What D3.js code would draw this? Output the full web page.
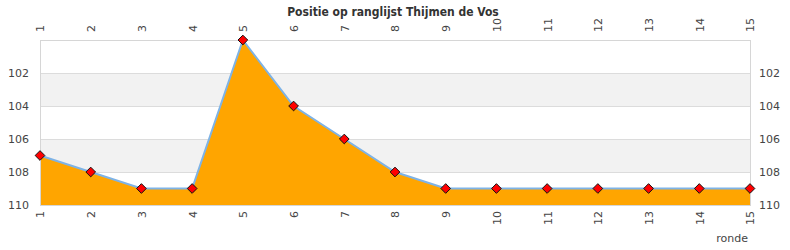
<!DOCTYPE html>
<html>
<head>
<meta charset="utf-8">
<script src="https://cdn.jsdelivr.net/npm/d3@7"></script>
<style>
  body { margin: 0; background: #fff; }
  text { font-family: "DejaVu Sans", sans-serif; }
</style>
</head>
<body>
<div class="chart"></div>
<script>
const rondes = [1, 2, 3, 4, 5, 6, 7, 8, 9, 10, 11, 12, 13, 14, 15];
const posities = [107, 108, 109, 109, 100, 104, 106, 108, 109, 109, 109, 109, 109, 109, 109];
const yTicks = [102, 104, 106, 108, 110];

const w = 790;
const h = 250;
const margin = { top: 40, bottom: 45, left: 40, right: 40 };

const x = d3.scaleLinear().domain([1, 15]).range([margin.left, w - margin.right]);
const y = d3.scaleLinear().domain([100, 110]).range([margin.top, h - margin.bottom]);

const svg = d3.select(".chart").append("svg")
    .attr("width", w)
    .attr("height", h);

// alternating bands
const bands = [[102, 104], [106, 108]];
svg.append("g").selectAll("rect")
    .data(bands)
    .enter().append("rect")
    .attr("x", x(1))
    .attr("width", x(15) - x(1))
    .attr("y", d => y(d[0]))
    .attr("height", d => y(d[1]) - y(d[0]))
    .attr("fill", "#f2f2f2");

// grid lines
svg.append("g").selectAll("line")
    .data(yTicks)
    .enter().append("line")
    .attr("x1", x(1)).attr("x2", x(15))
    .attr("y1", d => y(d) + 0.5).attr("y2", d => y(d) + 0.5)
    .attr("stroke", "#dcdcdc");

const pts = rondes.map((r, i) => [r, posities[i]]);

const area = d3.area()
    .x(d => x(d[0]))
    .y0(y(110))
    .y1(d => y(d[1]));

svg.append("path")
    .attr("d", area(pts))
    .attr("fill", "#ffa500");

const line = d3.line()
    .x(d => x(d[0]))
    .y(d => y(d[1]));

svg.append("path")
    .attr("d", line(pts))
    .attr("fill", "none")
    .attr("stroke", "#7eb3e6")
    .attr("stroke-width", 2);

// plot frame
svg.append("rect")
    .attr("x", x(1) + 0.5)
    .attr("y", y(100) + 0.5)
    .attr("width", x(15) - x(1))
    .attr("height", y(110) - y(100))
    .attr("fill", "none")
    .attr("stroke", "#d6d6d6");

// markers
svg.append("g").selectAll("path")
    .data(pts)
    .enter().append("path")
    .attr("d", d3.symbol().type(d3.symbolDiamond2).size(60))
    .attr("transform", d => "translate(" + x(d[0]) + "," + y(d[1]) + ")")
    .attr("fill", "#ff0000")
    .attr("stroke", "#111")
    .attr("stroke-linejoin", "round")
    .attr("stroke-width", 1);

// axes
const xTop = d3.axisTop(x).tickValues(rondes).tickFormat(d3.format("d")).tickSize(0).tickPadding(8);
const xBot = d3.axisBottom(x).tickValues(rondes).tickFormat(d3.format("d")).tickSize(0).tickPadding(8);
const yLeft = d3.axisLeft(y).tickValues(yTicks).tickSize(0).tickPadding(11);
const yRight = d3.axisRight(y).tickValues(yTicks).tickSize(0).tickPadding(9);

function styleAxis(g) {
  g.select(".domain").remove();
  g.selectAll("text").attr("fill", "#444").style("font-size", "11px").style("font-family", "DejaVu Sans, sans-serif");
}

svg.append("g")
    .attr("transform", "translate(0," + y(100) + ")")
    .call(xTop)
    .call(styleAxis)
    .selectAll("text")
    .attr("transform", "rotate(-90)")
    .attr("x", 8)
    .attr("y", 0)
    .attr("dy", "0.35em")
    .style("text-anchor", "start");

svg.append("g")
    .attr("transform", "translate(0," + y(110) + ")")
    .call(xBot)
    .call(styleAxis)
    .selectAll("text")
    .attr("transform", "rotate(-90)")
    .attr("x", -6)
    .attr("y", 0)
    .attr("dy", "0.35em")
    .style("text-anchor", "end");

svg.append("g")
    .attr("transform", "translate(" + x(1) + ",0)")
    .call(yLeft)
    .call(styleAxis);

svg.append("g")
    .attr("transform", "translate(" + x(15) + ",0)")
    .call(yRight)
    .call(styleAxis);

svg.append("text")
    .attr("x", 393)
    .attr("y", 16)
    .attr("text-anchor", "middle")
    .attr("fill", "#333")
    .style("font-family", "'DejaVu Sans Condensed', 'DejaVu Sans', sans-serif")
    .style("font-stretch", "condensed")
    .style("font-size", "12px")
    .style("font-weight", "bold")
    .text("Positie op ranglijst Thijmen de Vos");

svg.append("text")
    .attr("x", 748)
    .attr("y", 242)
    .attr("text-anchor", "end")
    .attr("fill", "#444")
    .style("font-size", "11px")
    .text("ronde");
</script>
</body>
</html>
